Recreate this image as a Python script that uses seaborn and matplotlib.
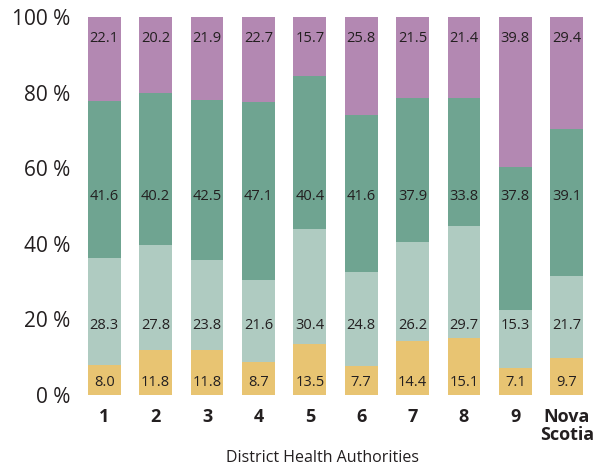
import matplotlib
matplotlib.use("Agg")
import matplotlib.pyplot as plt
import seaborn as sns
import pandas as pd
import numpy as np

districts = ["1", "2", "3", "4", "5", "6", "7", "8", "9", "Nova\nScotia"]
seg1 = [8.0, 11.8, 11.8, 8.7, 13.5, 7.7, 14.4, 15.1, 7.1, 9.7]
seg2 = [28.3, 27.8, 23.8, 21.6, 30.4, 24.8, 26.2, 29.7, 15.3, 21.7]
seg3 = [41.6, 40.2, 42.5, 47.1, 40.4, 41.6, 37.9, 33.8, 37.8, 39.1]
seg4 = [22.1, 20.2, 21.9, 22.7, 15.7, 25.8, 21.5, 21.4, 39.8, 29.4]
yticks = [0, 20, 40, 60, 80, 100]

colors = ["#E8C472", "#AFCBC1", "#6FA491", "#B388B2"]
label_y = [3.3, 18.5, 52.4, 94.4]

sns.set_theme(style="white")
plt.rcParams["font.family"] = ["Open Sans", "DejaVu Sans"]

df = pd.DataFrame({"district": districts, "s1": seg1, "s2": seg2, "s3": seg3, "s4": seg4})
layers = ["s1", "s2", "s3", "s4"]
cum = df[layers].cumsum(axis=1)

fig = plt.figure(figsize=(5.95, 4.66), dpi=100)
ax = fig.add_axes([76 / 595, 71 / 466, 519 / 595, 378 / 466])

# stacked bars: draw cumulative totals from the top layer down
for i in reversed(range(4)):
    sns.barplot(x=df["district"], y=cum[layers[i]], color=colors[i], width=0.64,
                saturation=1, ax=ax, linewidth=0, edgecolor="none")

for i, col in enumerate(layers):
    for j, v in enumerate(df[col]):
        ax.text(j, label_y[i], f"{v:.1f}", ha="center", va="center",
                fontsize=10.5, color="#231f20")

ax.set_xlim(-0.55, 9.55)
ax.set_ylim(0, 100)
ax.set_yticks(yticks)
ax.set_yticklabels([f"{t} %" for t in yticks], fontsize=15, color="#231f20")
ax.set_xticks(range(len(districts)))
ax.set_xticklabels(districts, fontsize=13, fontweight="bold", color="#231f20",
                   linespacing=1.0)
ax.tick_params(axis="x", length=0, pad=9)
ax.tick_params(axis="y", length=0, pad=4)
ax.set_xlabel("")
ax.set_ylabel("")
fig.text(322 / 595, 1 - 458 / 466, "District Health Authorities", ha="center",
         va="center", fontsize=11.5, color="#231f20")
sns.despine(ax=ax, left=True, bottom=True)

fig.savefig("out.png", dpi=100)
